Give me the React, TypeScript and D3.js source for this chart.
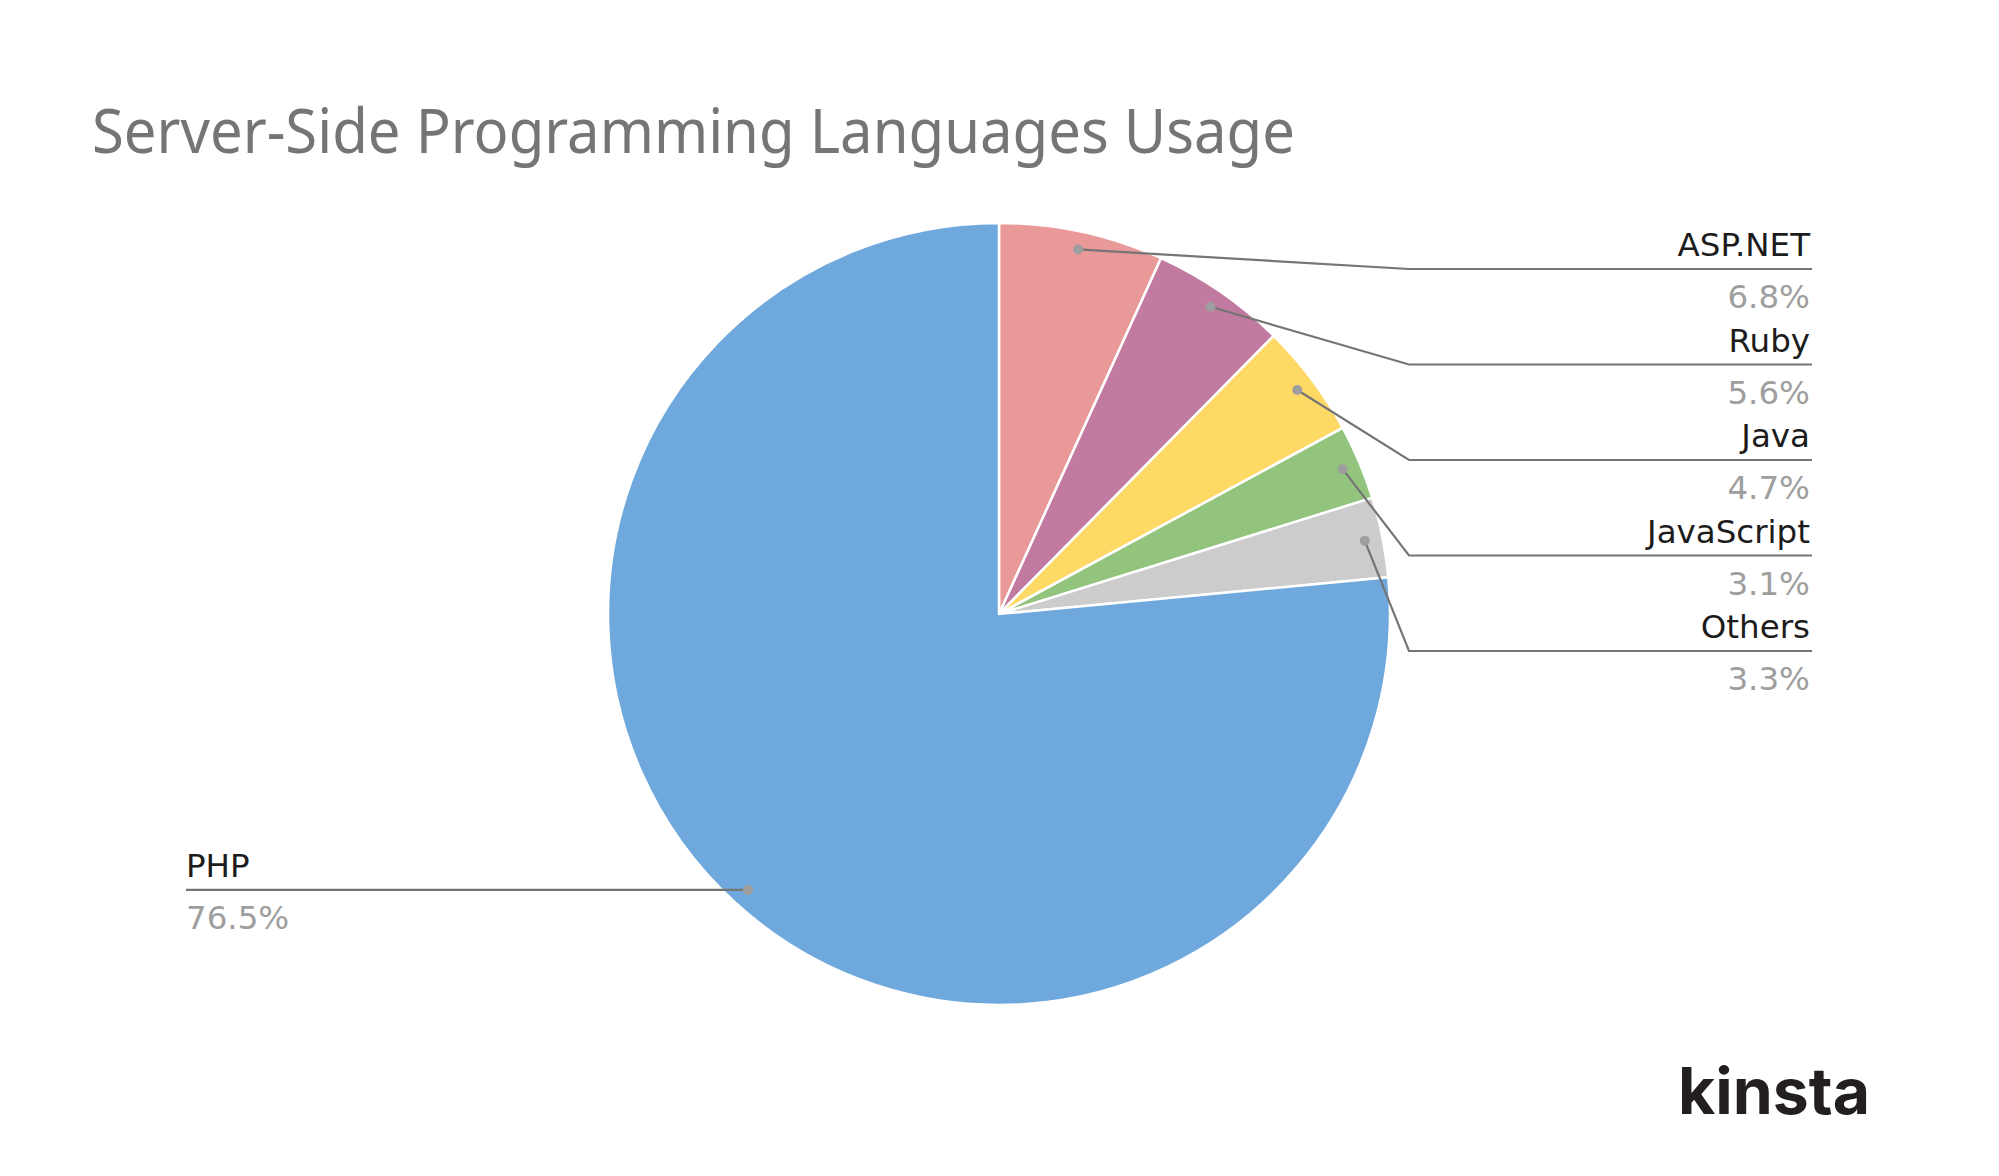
import { useEffect, useRef } from 'react';
import * as d3 from 'd3';

const languages = ['ASP.NET', 'Ruby', 'Java', 'JavaScript', 'Others', 'PHP'];
const shares = [6.8, 5.6, 4.7, 3.1, 3.3, 76.5];
const sliceColors = ['#ea9999', '#c27ba0', '#ffd966', '#93c47d', '#cccccc', '#6fa8dc'];
const shareLabels = ['6.8%', '5.6%', '4.7%', '3.1%', '3.3%', '76.5%'];

const W = 1999;
const H = 1176;

export default function App() {
  const svgRef = useRef<SVGSVGElement>(null);

  useEffect(() => {
    if (!svgRef.current) return;
    const svg = d3.select(svgRef.current);
    svg.selectAll('*').remove();

    const titleFont = "'Noto Sans', sans-serif";
    const labelFont = "'DejaVu Sans', sans-serif";
    const cx = 999;
    const cy = 614;
    const r = 391;
    const dotR = r * 0.954;

    svg.append('rect').attr('width', W).attr('height', H).attr('fill', '#fff');

    // title
    svg.append('text')
      .attr('x', 92)
      .attr('y', 153)
      .attr('font-family', titleFont)
      .attr('font-size', 62)
      .attr('fill', '#757575')
      .attr('textLength', 1203)
      .attr('lengthAdjust', 'spacingAndGlyphs')
      .text('Server-Side Programming Languages Usage');

    const data = languages.map((name, i) => ({ name, value: shares[i], color: sliceColors[i], label: shareLabels[i] }));

    const pie = d3.pie<any>().sort(null).value((d: any) => d.value);
    const arcs = pie(data);
    const arc = d3.arc<any>().innerRadius(0).outerRadius(r);

    const g = svg.append('g').attr('transform', `translate(${cx},${cy})`);
    g.selectAll('path.slice')
      .data(arcs)
      .enter().append('path')
      .attr('class', 'slice')
      .attr('d', arc as any)
      .attr('fill', (d: any) => d.data.color)
      .attr('stroke', '#fff')
      .attr('stroke-width', 2.5);

    // leader lines + labels
    const rightX0 = 1409;
    const rightX1 = 1812;
    const lineY0 = 269;
    const lineStep = 95.5;
    const labels = svg.append('g');

    arcs.forEach((a: any, i: number) => {
      const mid = (a.startAngle + a.endAngle) / 2;
      const px = cx + dotR * Math.sin(mid);
      const py = cy - dotR * Math.cos(mid);
      const isLeft = a.data.name === 'PHP';
      let pts: [number, number][];
      let tx: number, ly: number, anchor: string;
      if (isLeft) {
        ly = py;
        pts = [[px, py], [186, py]];
        tx = 186;
        anchor = 'start';
      } else {
        ly = lineY0 + i * lineStep;
        pts = [[px, py], [rightX0, ly], [rightX1, ly]];
        tx = rightX1 - 2;
        anchor = 'end';
      }
      labels.append('path')
        .attr('d', d3.line()(pts))
        .attr('fill', 'none')
        .attr('stroke', '#757575')
        .attr('stroke-width', 2.2);
      labels.append('circle')
        .attr('cx', px).attr('cy', py).attr('r', 5)
        .attr('fill', '#9e9e9e');
      labels.append('text')
        .attr('x', tx).attr('y', ly - 13)
        .attr('text-anchor', anchor)
        .attr('font-family', labelFont)
        .attr('font-size', 32.5)
        .attr('fill', '#1c1c1c')
        .text(a.data.name);
      labels.append('text')
        .attr('x', tx).attr('y', ly + 39)
        .attr('text-anchor', anchor)
        .attr('font-family', labelFont)
        .attr('font-size', 32.5)
        .attr('fill', '#9e9e9e')
        .text(a.data.label);
    });

    // logo
    svg.append('text')
      .attr('x', 1678)
      .attr('y', 1114)
      .attr('font-family', "Inter, sans-serif")
      .attr('font-weight', 700)
      .attr('font-size', 64)
      .attr('fill', '#231f20')
      .attr('textLength', 192)
      .attr('lengthAdjust', 'spacingAndGlyphs')
      .text('kinsta');
  }, []);

  return (
    <svg
      ref={svgRef}
      width={W}
      height={H}
      viewBox={`0 0 ${W} ${H}`}
      style={{ position: 'absolute', left: 0, top: 0, display: 'block' }}
    />
  );
}
